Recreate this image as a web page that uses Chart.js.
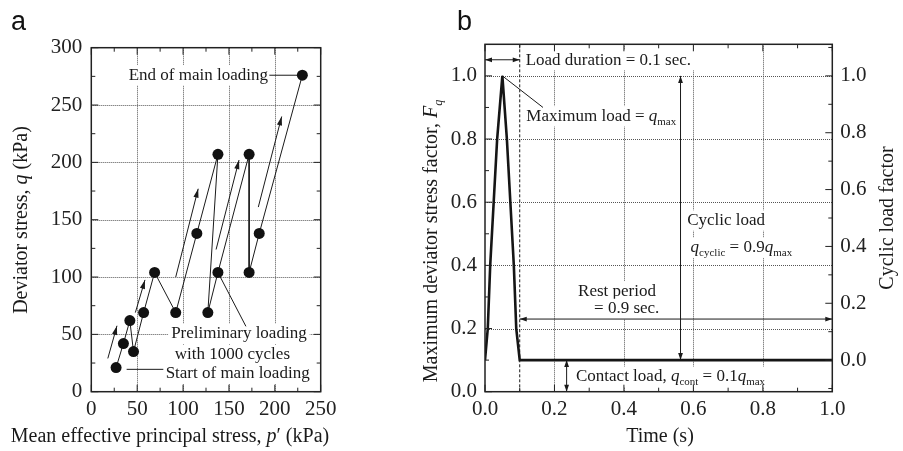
<!DOCTYPE html>
<html>
<head>
<meta charset="utf-8">
<script src="https://cdn.jsdelivr.net/npm/chart.js@4.4.1/dist/chart.umd.min.js"></script>
<style>
  html, body { margin: 0; padding: 0; background: #fff; }
  body { width: 903px; height: 451px; position: relative; overflow: hidden; }
  canvas { position: absolute; top: 0; }
  #stressPath { left: 0; }
  #loadWave { left: 400px; }
</style>
</head>
<body>
<canvas id="stressPath" width="400" height="451"></canvas>
<canvas id="loadWave" width="503" height="451"></canvas>
<script>
// ---- panel a: stress path ----
const pTicks = [0, 50, 100, 150, 200, 250];
const qTicks = [0, 50, 100, 150, 200, 250, 300];
const pPath = [27, 35, 42, 46, 57, 69, 92, 115, 138, 127, 138, 172, 172, 183, 230];
const qPath = [21, 42, 62, 35, 69, 104, 69, 138, 207, 69, 104, 207, 104, 138, 276];
// direction arrows next to the path (tail -> head)
const arrowTailP = [18, 48, 92, 136, 182];
const arrowTailQ = [29, 69, 100, 124, 161];
const arrowHeadP = [28, 58.5, 116.5, 161, 207.5];
const arrowHeadQ = [57.5, 97.5, 177, 202, 240];

// ---- panel b: load wave ----
const timeTicks = [0, 0.2, 0.4, 0.6, 0.8, 1.0];
const factorTicks = [0, 0.2, 0.4, 0.6, 0.8, 1.0];
const cyclicTicks = [0, 0.2, 0.4, 0.6, 0.8, 1.0];
const timeS = [0, 0.008, 0.015, 0.025, 0.035, 0.05, 0.063, 0.073, 0.083, 0.09, 0.1, 1.0];
const stressFactor = [0.1, 0.2, 0.4, 0.6, 0.8, 1.0, 0.8, 0.6, 0.4, 0.2, 0.1, 0.1];

const SERIF = '"Liberation Serif", "DejaVu Serif", serif';
const INK = '#1a1a1a';

function fontOf(k, size) {
  const sub = k === 's' || k === 'is';
  const ital = k === 'i' || k === 'is';
  return (ital ? 'italic ' : '') + (sub ? Math.round(size * 0.62) : size) + 'px ' + SERIF;
}
function richWidth(ctx, parts, size) {
  let w = 0;
  parts.forEach(([t, k]) => { ctx.font = fontOf(k, size); w += ctx.measureText(t).width; });
  return w;
}
// parts: [text, kind]  kind: 'n' normal, 'i' italic, 's' subscript, 'is' italic subscript
function rich(ctx, parts, x, y, size, align, bg) {
  const w = richWidth(ctx, parts, size);
  let cx = align === 'center' ? x - w / 2 : align === 'right' ? x - w : x;
  if (bg) {
    ctx.fillStyle = '#fff';
    ctx.fillRect(cx - 3, y - size * 0.6, w + 6, size * 1.2);
  }
  ctx.fillStyle = INK;
  ctx.textBaseline = 'middle';
  ctx.textAlign = 'left';
  parts.forEach(([t, k]) => {
    ctx.font = fontOf(k, size);
    const sub = k === 's' || k === 'is';
    ctx.fillText(t, cx, sub ? y + size * 0.32 : y);
    cx += ctx.measureText(t).width;
  });
}
function rotatedRich(ctx, parts, x, y, size) {
  ctx.save();
  ctx.translate(x, y);
  ctx.rotate(-Math.PI / 2);
  rich(ctx, parts, 0, 0, size, 'center');
  ctx.restore();
}
function arrowHead(ctx, x0, y0, x1, y1, len, half) {
  const a = Math.atan2(y1 - y0, x1 - x0);
  ctx.beginPath();
  ctx.moveTo(x1, y1);
  ctx.lineTo(x1 - len * Math.cos(a) + half * Math.sin(a), y1 - len * Math.sin(a) - half * Math.cos(a));
  ctx.lineTo(x1 - len * Math.cos(a) - half * Math.sin(a), y1 - len * Math.sin(a) + half * Math.cos(a));
  ctx.closePath();
  ctx.fill();
}
function segment(ctx, x0, y0, x1, y1) {
  ctx.beginPath();
  ctx.moveTo(x0, y0);
  ctx.lineTo(x1, y1);
  ctx.stroke();
}
function dottedGrid(ctx, area, xs, ys, xVals, yVals) {
  ctx.save();
  ctx.strokeStyle = '#555';
  ctx.lineWidth = 1;
  ctx.setLineDash([1, 1]);
  xVals.forEach(v => { const px = Math.round(xs.getPixelForValue(v)) + 0.5; segment(ctx, px, area.top, px, area.bottom); });
  yVals.forEach(v => { const py = Math.round(ys.getPixelForValue(v)) + 0.5; segment(ctx, area.left, py, area.right, py); });
  ctx.restore();
}
function frameAndTicks(ctx, area, spec) {
  ctx.save();
  ctx.strokeStyle = '#222';
  ctx.lineWidth = 1.5;
  ctx.strokeRect(area.left, area.top, area.right - area.left, area.bottom - area.top);
  ctx.lineWidth = 1;
  spec.forEach(({ scale, side, values, len }) => {
    values.forEach(v => {
      const p = scale.getPixelForValue(v);
      if (side === 'bottom') segment(ctx, p, area.bottom, p, area.bottom - len);
      if (side === 'top') segment(ctx, p, area.top, p, area.top + len);
      if (side === 'left') segment(ctx, area.left, p, area.left + len, p);
      if (side === 'right') segment(ctx, area.right, p, area.right - len, p);
    });
  });
  ctx.restore();
}
function steps(from, to, step) {
  const out = [];
  for (let v = from; v <= to + 1e-9; v += step) out.push(+v.toFixed(4));
  return out;
}
function panelLetter(ctx, txt, x, y) {
  ctx.save();
  ctx.fillStyle = '#111';
  ctx.font = '27px "Liberation Sans", Arial, sans-serif';
  ctx.textBaseline = 'alphabetic';
  ctx.fillText(txt, x, y);
  ctx.restore();
}

const tickFont = { family: SERIF, size: 21 };

// ---------------- panel a ----------------
const stressPlugin = {
  id: 'stressDecor',
  beforeDatasetsDraw(chart) {
    const { ctx, chartArea: a, scales: { x, y } } = chart;
    dottedGrid(ctx, a, x, y, [50, 100, 150, 200], [50, 100, 150, 200, 250]);
    rich(ctx, [['End of main loading', 'n']], x.getPixelForValue(192.5), y.getPixelForValue(276), 17, 'right', true);
    rich(ctx, [['Preliminary loading', 'n']], x.getPixelForValue(87), y.getPixelForValue(50.5), 17, 'left', true);
    rich(ctx, [['with 1000 cycles', 'n']], x.getPixelForValue(91), y.getPixelForValue(32), 17, 'left', true);
    rich(ctx, [['Start of main loading', 'n']], x.getPixelForValue(81), y.getPixelForValue(15.5), 17, 'left', true);
    ctx.save();
    ctx.strokeStyle = INK;
    ctx.fillStyle = INK;
    ctx.lineWidth = 1;
    // leader lines of the labels
    segment(ctx, x.getPixelForValue(194), y.getPixelForValue(276), x.getPixelForValue(228), y.getPixelForValue(276));
    segment(ctx, x.getPixelForValue(38.5), y.getPixelForValue(19.5), x.getPixelForValue(78.5), y.getPixelForValue(19.5));
    segment(ctx, x.getPixelForValue(138), y.getPixelForValue(104), x.getPixelForValue(168.5), y.getPixelForValue(57));
    // direction arrows
    arrowTailP.forEach((p, i) => {
      const x0 = x.getPixelForValue(p), y0 = y.getPixelForValue(arrowTailQ[i]);
      const x1 = x.getPixelForValue(arrowHeadP[i]), y1 = y.getPixelForValue(arrowHeadQ[i]);
      segment(ctx, x0, y0, x1, y1);
      arrowHead(ctx, x0, y0, x1, y1, 9, 2.6);
    });
    ctx.restore();
  },
  afterDraw(chart) {
    const { ctx, chartArea: a, scales: { x, y } } = chart;
    frameAndTicks(ctx, a, [
      { scale: x, side: 'bottom', values: steps(25, 225, 50), len: 4 },
      { scale: x, side: 'top', values: steps(25, 225, 50), len: 4 },
      { scale: x, side: 'top', values: pTicks, len: 7 },
      { scale: x, side: 'bottom', values: pTicks, len: 7 },
      { scale: y, side: 'left', values: steps(25, 275, 50), len: 4 },
      { scale: y, side: 'right', values: steps(25, 275, 50), len: 4 },
      { scale: y, side: 'left', values: qTicks, len: 7 },
      { scale: y, side: 'right', values: qTicks, len: 7 }
    ]);
    rotatedRich(ctx, [['Deviator stress, ', 'n'], ['q', 'i'], [' (kPa)', 'n']], 22, 220, 20);
    rich(ctx, [['Mean effective principal stress, ', 'n'], ['p', 'i'], ['\u2032 (kPa)', 'n']], 170, 437, 20, 'center');
    panelLetter(ctx, 'a', 11, 30);
  }
};

new Chart(document.getElementById('stressPath').getContext('2d'), {
  type: 'scatter',
  data: {
    datasets: [{
      data: pPath.map((p, i) => ({ x: p, y: qPath[i] })),
      showLine: true,
      borderColor: INK,
      borderWidth: 1,
      pointRadius: 5.5,
      pointBackgroundColor: '#111',
      pointBorderWidth: 0
    }]
  },
  options: {
    responsive: false,
    animation: false,
    devicePixelRatio: 1,
    layout: { padding: { top: 47.7, right: 79.3, left: 0, bottom: 0 } },
    plugins: { legend: { display: false }, tooltip: { enabled: false } },
    scales: {
      x: {
        type: 'linear', min: 0, max: 250,
        afterBuildTicks: s => { s.ticks = pTicks.map(v => ({ value: v })); },
        afterFit: s => { s.height = 59.3; },
        ticks: { font: tickFont, color: '#222', padding: 5, maxRotation: 0, autoSkip: false },
        grid: { display: false, drawTicks: false },
        border: { display: false }
      },
      y: {
        type: 'linear', min: 0, max: 300,
        afterBuildTicks: s => { s.ticks = qTicks.map(v => ({ value: v })); },
        afterFit: s => { s.width = 91.3; },
        ticks: { font: tickFont, color: '#222', padding: 9, autoSkip: false },
        grid: { display: false, drawTicks: false },
        border: { display: false }
      }
    }
  },
  plugins: [stressPlugin]
});

// ---------------- panel b ----------------
const wavePlugin = {
  id: 'waveDecor',
  beforeDatasetsDraw(chart) {
    const { ctx, chartArea: a, scales: { x, y } } = chart;
    dottedGrid(ctx, a, x, y, [0.2, 0.4, 0.6, 0.8], [0.2, 0.4, 0.6, 0.8, 1.0]);
    const X = v => x.getPixelForValue(v), Y = v => y.getPixelForValue(v);
    rich(ctx, [['Load duration = 0.1 sec.', 'n']], X(0.117), Y(1.05), 17, 'left', true);
    rich(ctx, [['Maximum load = ', 'n'], ['q', 'i'], ['max', 's']], X(0.119), Y(0.872), 17, 'left', true);
    rich(ctx, [['Cyclic load', 'n']], X(0.582), Y(0.542), 17, 'left', true);
    rich(ctx, [['q', 'i'], ['cyclic', 's'], [' = 0.9', 'n'], ['q', 'i'], ['max', 's']], X(0.592), Y(0.456), 17, 'left', true);
    rich(ctx, [['Rest period', 'n']], X(0.268), Y(0.318), 17, 'left', true);
    rich(ctx, [['= 0.9 sec.', 'n']], X(0.314), Y(0.262), 17, 'left', true);
    rich(ctx, [['Contact load, ', 'n'], ['q', 'i'], ['cont', 's'], [' = 0.1', 'n'], ['q', 'i'], ['max', 's']], X(0.262), Y(0.047), 17, 'left', true);
    ctx.save();
    ctx.strokeStyle = INK;
    ctx.fillStyle = INK;
    ctx.lineWidth = 1;
    // end of load pulse
    ctx.setLineDash([3, 2]);
    segment(ctx, X(0.1), a.top, X(0.1), a.bottom);
    ctx.setLineDash([]);
    // leader to the peak
    segment(ctx, X(0.05), Y(1.0), X(0.167), Y(0.9));
    const dbl = (x0, y0, x1, y1) => {
      segment(ctx, x0, y0, x1, y1);
      arrowHead(ctx, x0, y0, x1, y1, 7, 2.4);
      arrowHead(ctx, x1, y1, x0, y0, 7, 2.4);
    };
    dbl(X(0), Y(1.051), X(0.1), Y(1.051));
    dbl(X(0.1), Y(0.23), X(1.0), Y(0.23));
    dbl(X(0.563), Y(1.0), X(0.563), Y(0.1));
    dbl(X(0.235), Y(0.1), X(0.235), Y(0));
    ctx.restore();
  },
  afterDraw(chart) {
    const { ctx, chartArea: a, scales: { x, y, y2 } } = chart;
    frameAndTicks(ctx, a, [
      { scale: x, side: 'bottom', values: steps(0.1, 0.9, 0.2), len: 4 },
      { scale: x, side: 'top', values: steps(0.1, 0.9, 0.2), len: 4 },
      { scale: x, side: 'bottom', values: timeTicks, len: 7 },
      { scale: x, side: 'top', values: timeTicks, len: 7 },
      { scale: y, side: 'left', values: steps(0.1, 0.9, 0.2), len: 4 },
      { scale: y, side: 'left', values: factorTicks, len: 7 },
      { scale: y2, side: 'right', values: steps(-0.1, 1.1, 0.2), len: 4 },
      { scale: y2, side: 'right', values: cyclicTicks, len: 7 }
    ]);
    rotatedRich(ctx, [['Maximum deviator stress factor, ', 'n'], ['F', 'i'], ['q', 'is']], 32, 241, 20);
    rotatedRich(ctx, [['Cyclic load factor', 'n']], 488, 218, 20);
    rich(ctx, [['Time (s)', 'n']], 260, 437, 20, 'center');
    panelLetter(ctx, 'b', 57, 30);
  }
};

new Chart(document.getElementById('loadWave').getContext('2d'), {
  type: 'scatter',
  data: {
    datasets: [{
      data: timeS.map((t, i) => ({ x: t, y: stressFactor[i] })),
      showLine: true,
      borderColor: '#151515',
      borderWidth: 2.6,
      pointRadius: 0,
      tension: 0,
      yAxisID: 'y'
    }]
  },
  options: {
    responsive: false,
    animation: false,
    devicePixelRatio: 1,
    layout: { padding: { top: 44.3, right: 0, left: 0, bottom: 0 } },
    plugins: { legend: { display: false }, tooltip: { enabled: false } },
    scales: {
      x: {
        type: 'linear', min: 0, max: 1,
        afterBuildTicks: s => { s.ticks = timeTicks.map(v => ({ value: v })); },
        afterFit: s => { s.height = 59.3; },
        ticks: { font: tickFont, color: '#222', padding: 5, maxRotation: 0, autoSkip: false, callback: v => v.toFixed(1) },
        grid: { display: false, drawTicks: false },
        border: { display: false }
      },
      y: {
        type: 'linear', position: 'left', min: 0, max: 1.1,
        afterBuildTicks: s => { s.ticks = factorTicks.map(v => ({ value: v })); },
        afterFit: s => { s.width = 85; },
        ticks: { font: tickFont, color: '#222', padding: 8, autoSkip: false, callback: v => v.toFixed(1) },
        grid: { display: false, drawTicks: false },
        border: { display: false }
      },
      y2: {
        type: 'linear', position: 'right', min: -1 / 9, max: 10 / 9,
        afterBuildTicks: s => { s.ticks = cyclicTicks.map(v => ({ value: v })); },
        afterFit: s => { s.width = 70.7; },
        ticks: { font: tickFont, color: '#222', padding: 8, autoSkip: false, callback: v => v.toFixed(1) },
        grid: { display: false, drawTicks: false },
        border: { display: false }
      }
    }
  },
  plugins: [wavePlugin]
});
</script>
</body>
</html>
